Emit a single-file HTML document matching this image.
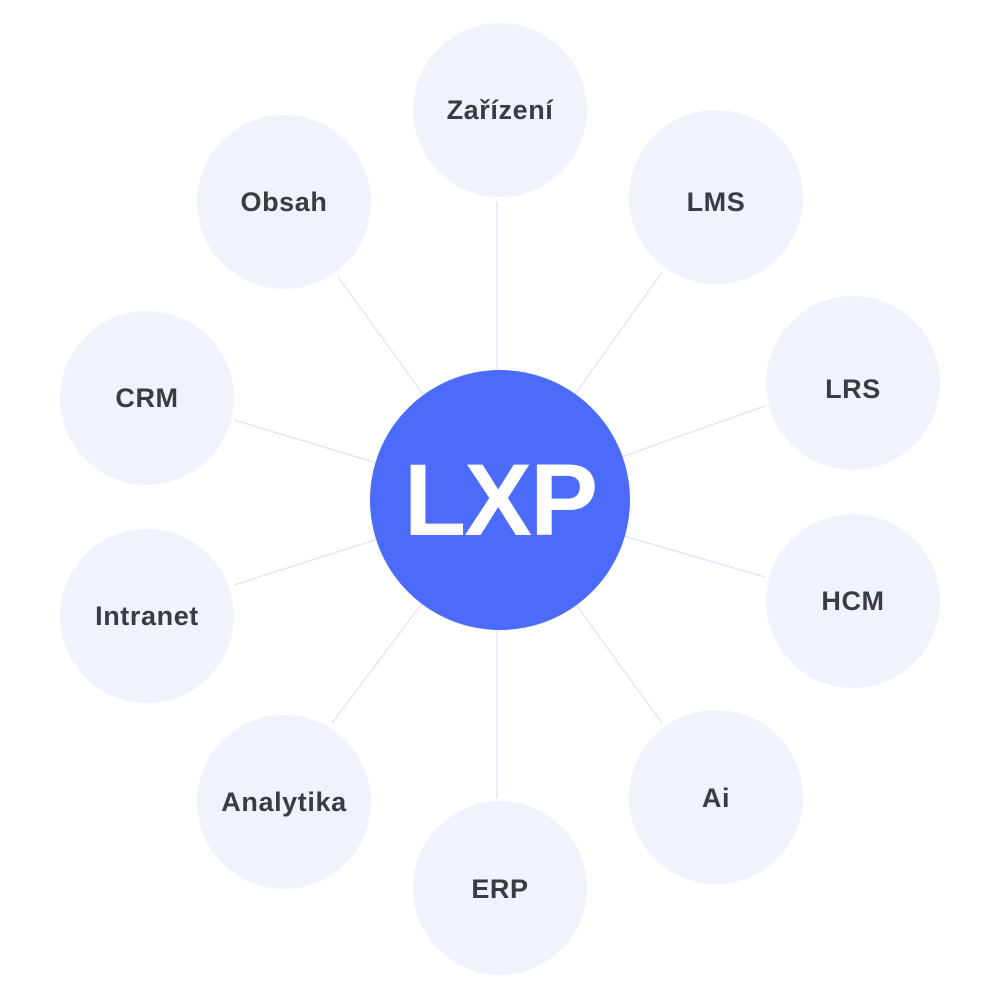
<!DOCTYPE html>
<html><head><meta charset="utf-8"><style>
html,body{margin:0;padding:0;background:#fff;}
svg{display:block}
text{font-family:"Liberation Sans",sans-serif;font-weight:bold;}
</style></head><body>
<svg width="1000" height="1000" viewBox="0 0 1000 1000">
<g stroke="#dde4f5" stroke-width="1.3">
<line x1="497" y1="202" x2="497" y2="500"/>
<line x1="662" y1="272" x2="500" y2="500"/>
<line x1="765" y1="406" x2="500" y2="500"/>
<line x1="765" y1="577" x2="500" y2="500"/>
<line x1="662" y1="723" x2="500" y2="500"/>
<line x1="497" y1="798" x2="497" y2="500"/>
<line x1="332" y1="723" x2="500" y2="500"/>
<line x1="234" y1="585" x2="500" y2="500"/>
<line x1="234" y1="420" x2="500" y2="500"/>
<line x1="338" y1="277" x2="500" y2="500"/>
</g>
<g fill="#f0f3fb">
<circle cx="500" cy="110" r="87"/>
<circle cx="716" cy="197" r="87"/>
<circle cx="853" cy="383" r="87"/>
<circle cx="853" cy="601" r="87"/>
<circle cx="716" cy="797" r="87"/>
<circle cx="500" cy="888" r="87"/>
<circle cx="284" cy="802" r="87"/>
<circle cx="147" cy="616" r="87"/>
<circle cx="147" cy="398" r="87"/>
<circle cx="284" cy="202" r="87"/>
</g>
<circle cx="500" cy="500" r="130" fill="#4d6bfb"/>
<g fill="#3b3b42" font-size="27" letter-spacing="0.6" text-anchor="middle">
<text x="500" y="119">Zařízení</text>
<text x="716" y="211">LMS</text>
<text x="853" y="398">LRS</text>
<text x="853" y="610">HCM</text>
<text x="716" y="807">Ai</text>
<text x="500" y="898">ERP</text>
<text x="284" y="811">Analytika</text>
<text x="147" y="625">Intranet</text>
<text x="147" y="407">CRM</text>
<text x="284" y="211">Obsah</text>
</g>
<text x="500" y="535" fill="#fff" font-size="102" letter-spacing="-2" text-anchor="middle">LXP</text>
</svg>
</body></html>
